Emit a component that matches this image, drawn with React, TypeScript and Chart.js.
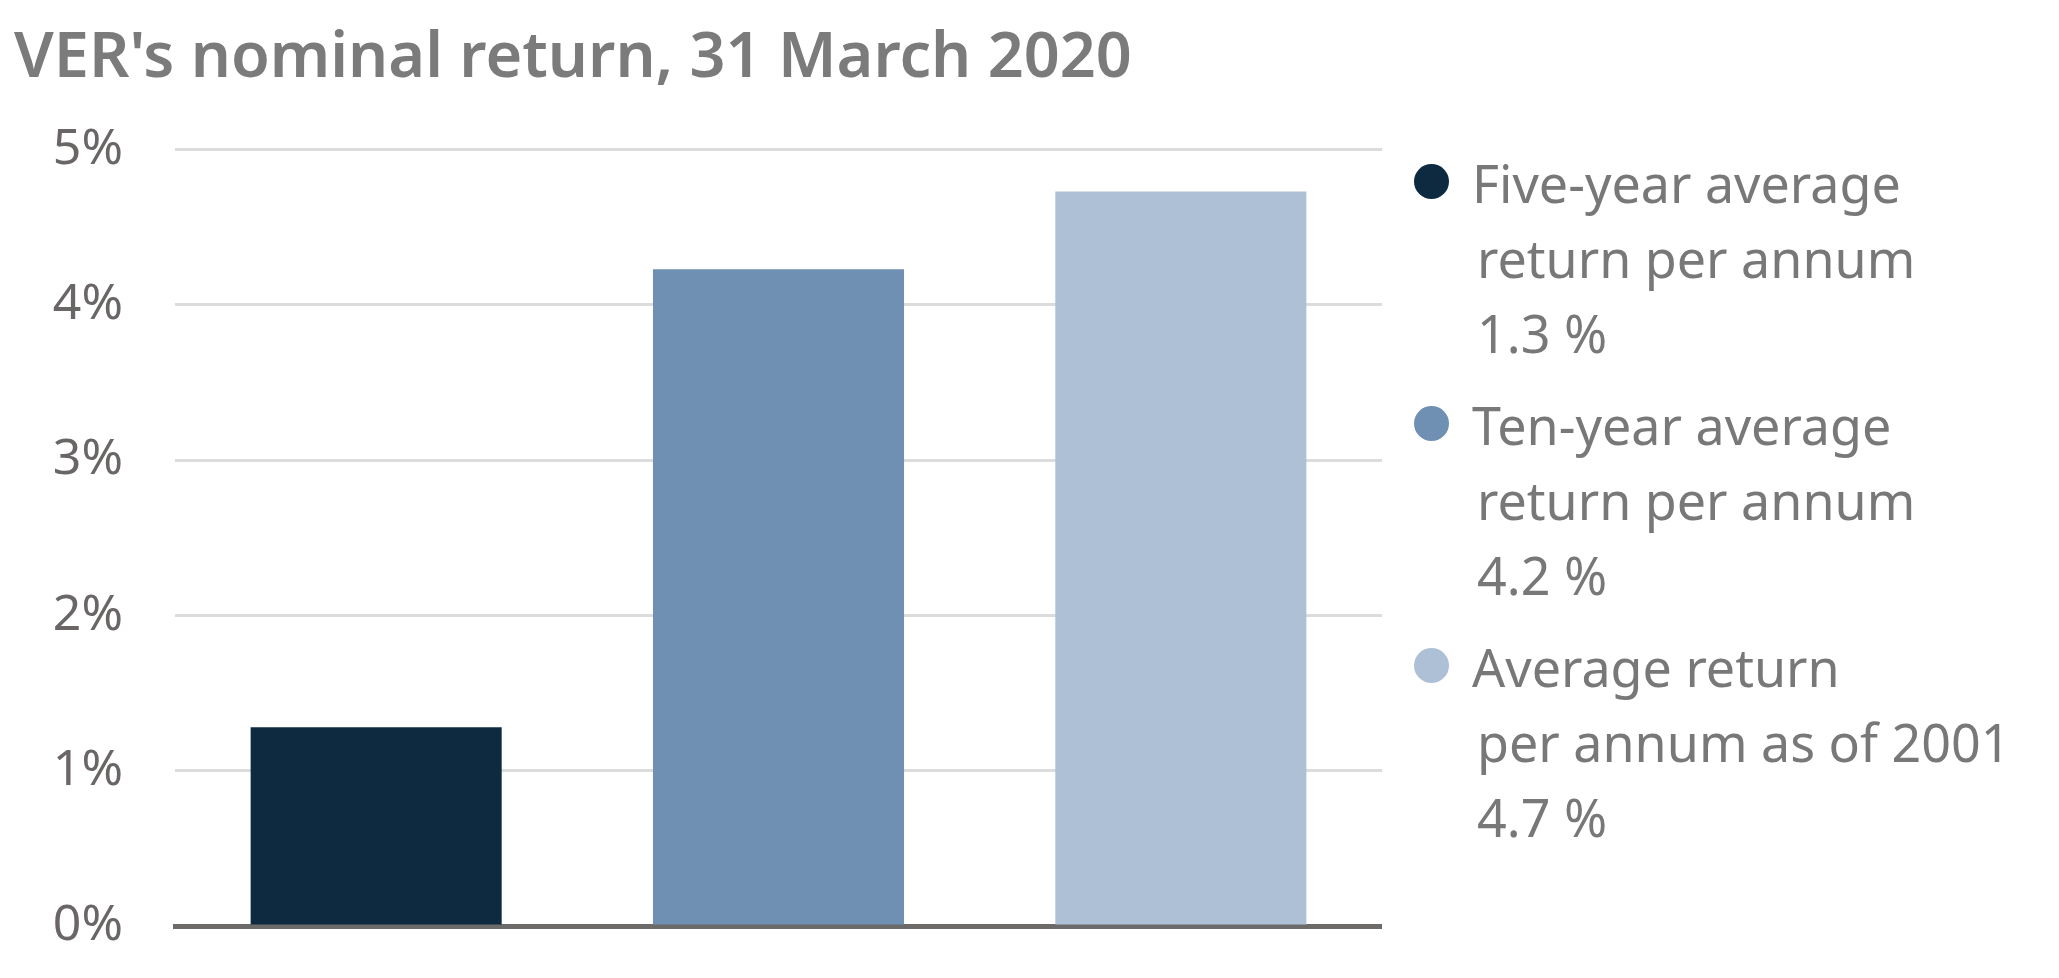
import React, {useEffect, useRef} from 'react';
import Chart from 'chart.js/auto';

// chart values
const categories = ['Five-year', 'Ten-year', 'Since 2001'];
const returns = [1.28, 4.23, 4.73];
const barColours = ['#0e2a40', '#6f90b3', '#adc0d6'];
const legendLines = [
    ['Five-year average', 'return per annum'],
    ['Ten-year average', 'return per annum'],
    ['Average return', 'per annum as of 2001'],
];
const yTicks = [0, 1, 2, 3, 4, 5];

const titleText = "VER's nominal return, 31 March 2020";

const colours = {
    title: '#7b7b7b',
    legendText: '#787878',
    tickText: '#6a6666',
    grid: '#dcdcdc',
    axis: '#6d6a6a',
};

const fontFamily = '"Noto Sans", sans-serif';

const ReturnChart: React.FC = () => {
    const canvasRef = useRef<HTMLCanvasElement>(null);
    const chartRef = useRef<Chart<any> | null>(null);

    useEffect(() => {
        if (!canvasRef.current) return;
        const ctx = canvasRef.current.getContext('2d');
        if (!ctx) return;

        Chart.defaults.font.family = fontFamily;

        if (chartRef.current) {
            chartRef.current.destroy();
        }

        chartRef.current = new Chart(ctx, {
            type: 'bar',
            data: {
                labels: categories,
                datasets: [{
                    label: 'Nominal return',
                    data: returns,
                    backgroundColor: barColours,
                    borderWidth: 0,
                    barPercentage: 0.624,
                    categoryPercentage: 1,
                }],
            },
            options: {
                animation: false,
                responsive: true,
                maintainAspectRatio: false,
                layout: {
                    padding: {left: 6, right: 0, top: 0, bottom: 42},
                },
                scales: {
                    x: {
                        display: true,
                        z: 1,
                        grid: {display: false, drawTicks: false},
                        ticks: {display: false},
                        border: {display: true, color: colours.axis, width: 5},
                    },
                    y: {
                        min: 0,
                        max: 5,
                        afterBuildTicks: (scale: any) => {
                            scale.ticks = yTicks.map(v => ({value: v}));
                        },
                        afterFit: (scale: any) => {
                            // fixed axis width; the label padding should not eat plot height
                            scale.width = 161;
                            scale.paddingTop = 0;
                            scale.paddingBottom = 0;
                        },
                        border: {display: false},
                        grid: {
                            drawTicks: false,
                            lineWidth: 3,
                            color: (c: any) => c.tick && c.tick.value === 0 ? 'rgba(0,0,0,0)' : colours.grid,
                        },
                        ticks: {
                            padding: 52,
                            color: colours.tickText,
                            font: {size: 50},
                            callback: (value: number | string) => `${value}%`,
                        },
                    },
                },
                plugins: {
                    title: {
                        display: true,
                        text: titleText,
                        align: 'start',
                        color: colours.title,
                        font: {size: 63, weight: 600, lineHeight: 1.2},
                        padding: {top: 13, bottom: 53},
                    },
                    legend: {display: false},
                    tooltip: {enabled: false},
                },
            },
        });

        return () => {
            if (chartRef.current) {
                chartRef.current.destroy();
                chartRef.current = null;
            }
        };
    }, []);

    return (
        <div style={{position: 'relative', width: '100%', height: '960px'}}>
            <div style={{position: 'absolute', left: 0, top: 0, width: '1374px', height: '960px'}}>
                <canvas ref={canvasRef}></canvas>
            </div>
            <div style={{
                position: 'absolute',
                left: '1406px',
                top: '137px',
                fontFamily,
                fontSize: '52px',
                lineHeight: '75px',
                color: colours.legendText,
            }}>
                {legendLines.map((lines, i) => (
                    <div key={categories[i]} style={{display: 'flex', alignItems: 'flex-start', marginBottom: '17px'}}>
                        <span style={{
                            display: 'inline-block',
                            width: '35px',
                            height: '35px',
                            borderRadius: '50%',
                            background: barColours[i],
                            marginTop: '19px',
                            marginRight: '23px',
                            flex: 'none',
                        }}/>
                        <div style={{whiteSpace: 'nowrap'}}>
                            {lines.map((line, j) => (
                                <div key={line} style={{paddingLeft: j > 0 ? '5px' : 0}}>{line}</div>
                            ))}
                            <div style={{paddingLeft: '5px'}}>{`${returns[i].toFixed(1)} %`}</div>
                        </div>
                    </div>
                ))}
            </div>
        </div>
    );
};

export default function App() {
    return <ReturnChart/>;
}
